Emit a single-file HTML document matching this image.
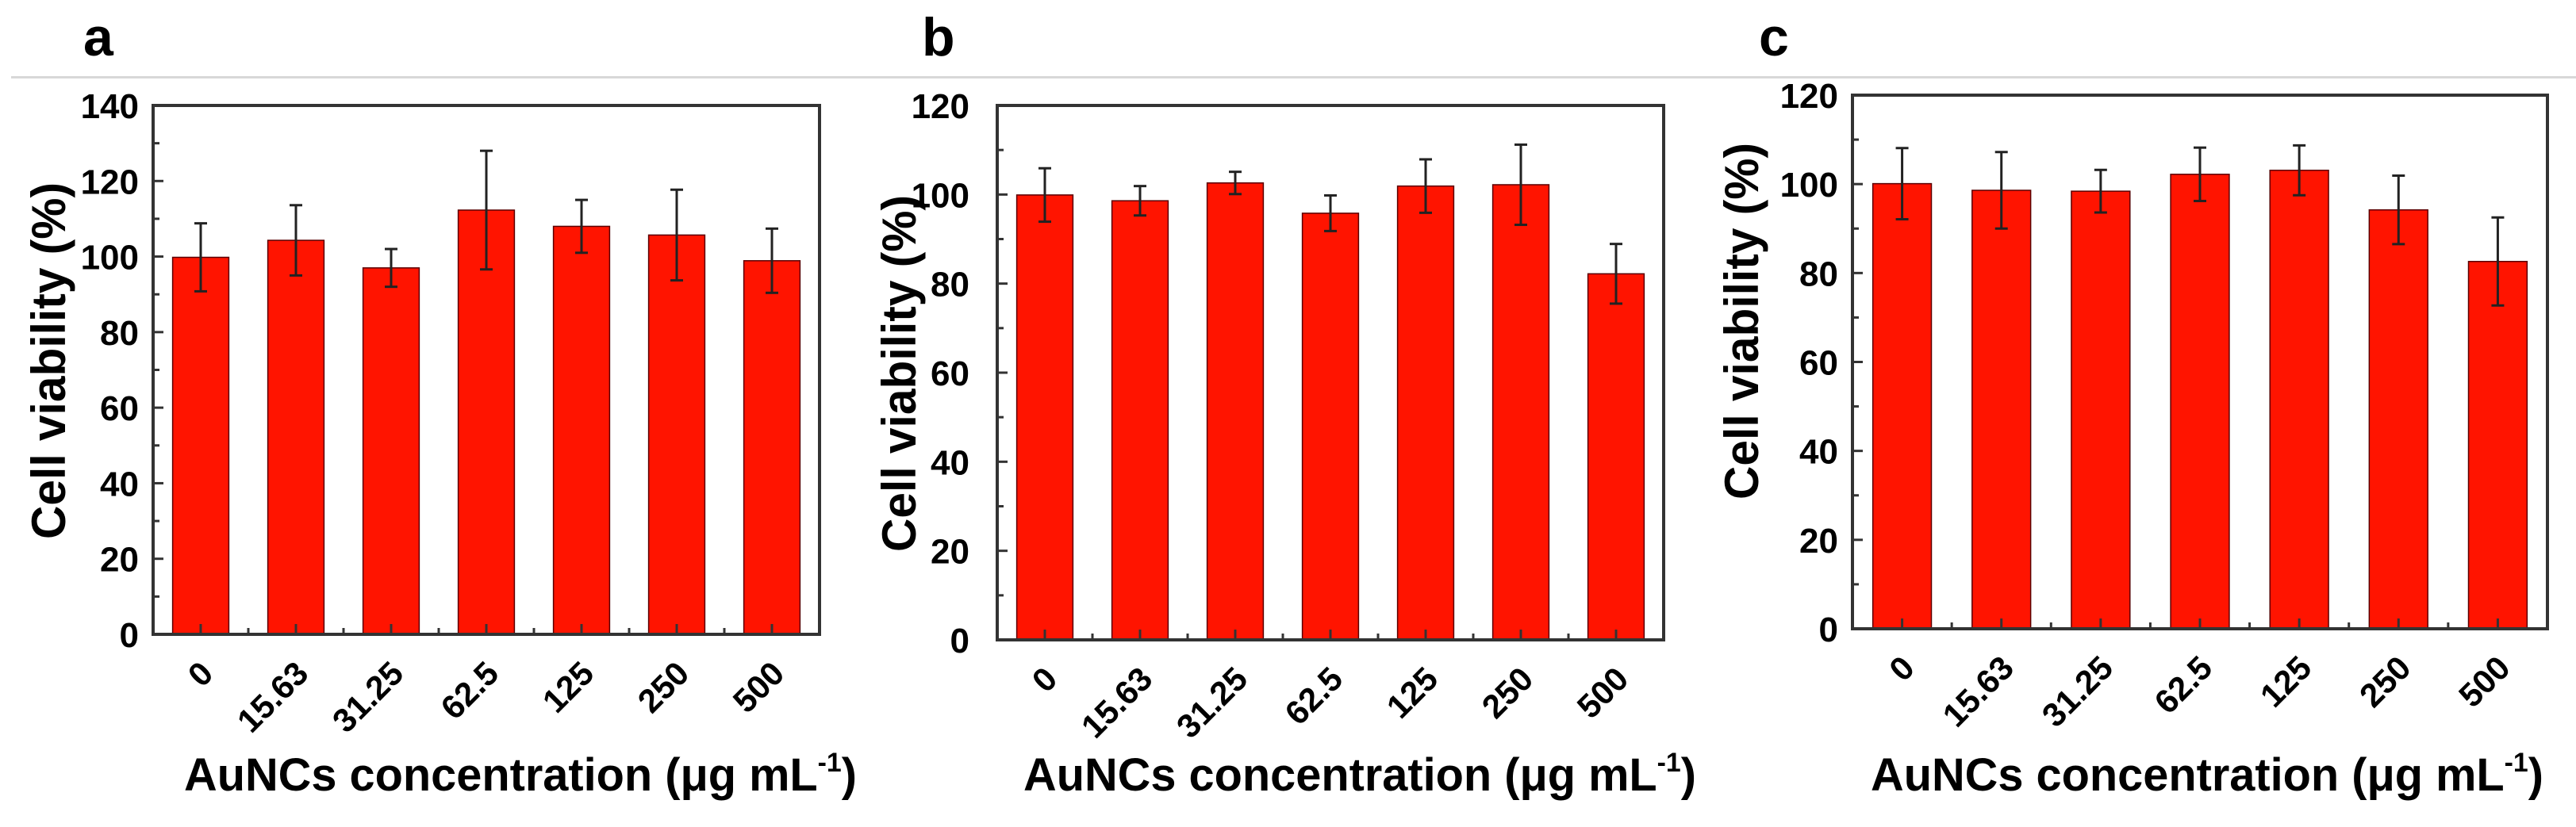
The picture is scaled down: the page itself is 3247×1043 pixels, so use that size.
<!DOCTYPE html>
<html><head><meta charset="utf-8"><style>
html,body{margin:0;padding:0;background:#fff;}
svg{display:block;font-family:"Liberation Sans",Arial,sans-serif;font-weight:bold;}
</style></head><body>
<svg id="fig" width="3247" height="1043" viewBox="0 0 3247 1043" xmlns="http://www.w3.org/2000/svg">
<rect width="3247" height="1043" fill="#fff"/>
<line x1="14" y1="97.5" x2="3247" y2="97.5" stroke="#d8d8d8" stroke-width="3"/>
</svg>
<script>
const categories = ["0","15.63","31.25","62.5","125","250","500"];
const valuesA = [99.8,104.3,97.0,112.3,108.0,105.7,98.9];
const errorsA = [9.0,9.3,5.0,15.7,7.0,12.0,8.5];
const valuesB = [99.9,98.6,102.6,95.8,101.9,102.2,82.2];
const errorsB = [6.0,3.3,2.5,4.0,6.0,9.0,6.7];
const valuesC = [100.1,98.6,98.4,102.2,103.1,94.2,82.6];
const errorsC = [8.0,8.6,4.8,6.0,5.6,7.7,9.9];
const yTicksA = [0,20,40,60,80,100,120,140];
const yTicksBC = [0,20,40,60,80,100,120];

const svg = document.getElementById('fig');
const NS = 'http://www.w3.org/2000/svg';
function mk(tag, attrs, parent){
  const e = document.createElementNS(NS, tag);
  for (const k in attrs) e.setAttribute(k, attrs[k]);
  (parent||svg).appendChild(e);
  return e;
}

function panel(p){
  const g = mk('g', {});
  
  
  const yMax = p.ticks[p.ticks.length-1];
  const yS = v => p.bottom - (v / yMax) * (p.bottom - p.top);
  const band = (p.right - p.left) / categories.length;
  const xS = i => p.left + band * (i + 0.5);

  const lbl = mk('text', {x:p.labelX, y:70, 'font-size':68}, g);
  lbl.textContent = p.id;
  
  

  p.values.forEach((v, i) => {
    const bw = band * 0.59;
    const r = mk('rect', {x:xS(i)-bw/2, y:yS(v), width:bw, height:p.bottom - yS(v), fill:'#ff1400', stroke:'#5a0000', 'stroke-width':1.5}, g);
    
    
  });
  p.values.forEach((v, i) => {
    const e = p.errors[i], cx = xS(i);
    const eg = mk('g', {stroke:'#222', 'stroke-width':3}, g);
    
    
    mk('line', {x1:cx, x2:cx, y1:yS(v+e), y2:yS(v-e)}, eg);
    mk('line', {x1:cx-8, x2:cx+8, y1:yS(v+e), y2:yS(v+e)}, eg);
    mk('line', {x1:cx-8, x2:cx+8, y1:yS(v-e), y2:yS(v-e)}, eg);
  });
  const fr = mk('rect', {x:p.left, y:p.top, width:p.right-p.left, height:p.bottom-p.top, fill:'none', stroke:'#333', 'stroke-width':4}, g);
  
  
  p.ticks.forEach((t, k) => {
    const y = yS(t);
    mk('line', {x1:p.left, x2:p.left+13, y1:y, y2:y, stroke:'#333', 'stroke-width':3}, g);
    if (k < p.ticks.length-1) {
      const ym = yS(t + (p.ticks[1]-p.ticks[0])/2);
      mk('line', {x1:p.left, x2:p.left+8, y1:ym, y2:ym, stroke:'#333', 'stroke-width':3}, g);
    }
    const tx = mk('text', {x:p.left - p.yGap, y:y+16, 'font-size':44, 'text-anchor':'end'}, g);
    tx.textContent = t;
    
    
  });
  categories.forEach((c, i) => {
    const x = xS(i);
    mk('line', {x1:x, x2:x, y1:p.bottom, y2:p.bottom-13, stroke:'#333', 'stroke-width':3}, g);
    const xb = p.left + band * (i + 1);
    if (i < categories.length-1) mk('line', {x1:xb, x2:xb, y1:p.bottom, y2:p.bottom-8, stroke:'#333', 'stroke-width':3}, g);
    const ax = x + 18, ay = p.bottom + 52;
    const tx = mk('text', {x:ax, y:ay, 'font-size':42, 'text-anchor':'end', transform:`rotate(-45 ${ax} ${ay})`}, g);
    tx.textContent = c;
    
    
  });
  const yt = mk('text', {x:0, y:0, 'font-size':60, 'text-anchor':'middle', transform:`translate(${p.yTitleX} ${p.yTitleY}) rotate(-90)`, textLength:450, lengthAdjust:'spacingAndGlyphs'}, g);
  yt.textContent = 'Cell viability (%)';
  
  
  const xt = mk('text', {x:p.xTitleX, y:997, 'font-size':58, 'text-anchor':'middle', textLength:848, lengthAdjust:'spacingAndGlyphs'}, g);
  
  
  xt.appendChild(document.createTextNode('AuNCs concentration (μg mL'));
  const sup = mk('tspan', {'font-size':34, dy:-24}, xt);
  sup.textContent = '-1';
  const cl = mk('tspan', {dy:24}, xt);
  cl.textContent = ')';
}

panel({id:'a', left:193, right:1033, top:133, bottom:800, ticks:yTicksA, values:valuesA, errors:errorsA, labelX:105, yGap:18, yTitleX:82, yTitleY:455, xTitleX:656});
panel({id:'b', left:1257, right:2097, top:133, bottom:807, ticks:yTicksBC, values:valuesB, errors:errorsB, labelX:1162, yGap:35, yTitleX:1154, yTitleY:471, xTitleX:1714});
panel({id:'c', left:2335, right:3211, top:120, bottom:793, ticks:yTicksBC, values:valuesC, errors:errorsC, labelX:2217, yGap:18, yTitleX:2216, yTitleY:405, xTitleX:2782});
</script>
</body></html>
